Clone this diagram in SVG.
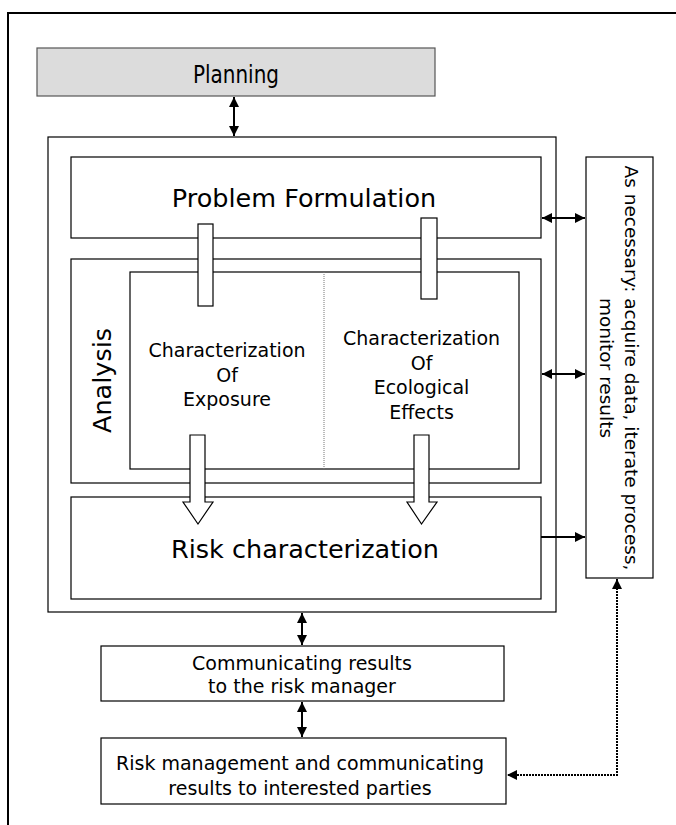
<svg xmlns="http://www.w3.org/2000/svg" width="676" height="825" viewBox="0 0 676 825">
<style>
.box{fill:#fff;stroke:#000;stroke-width:1.2}
.t{font-family:"DejaVu Sans","Verdana","Liberation Sans",sans-serif;fill:#000}
.big{font-size:25.5px}
.mid{font-size:19px}
.ln{stroke:#000;stroke-width:2;fill:none}
.bar{fill:#fff;stroke:#000;stroke-width:1.2}
</style>
<defs>
<marker id="ah" viewBox="0 0 10 10" refX="10" refY="5" markerWidth="10" markerHeight="11" markerUnits="userSpaceOnUse" orient="auto-start-reverse">
<path d="M0,0 L10,5 L0,10 z" fill="#000"/>
</marker>
</defs>
<rect width="676" height="825" fill="#fff"/>
<path d="M8,825 V13 H676" fill="none" stroke="#000" stroke-width="2"/>

<g id="planning">
<rect x="37" y="48" width="398" height="48" fill="#dcdcdc" stroke="#555" stroke-width="1.2"/>
<text class="t" x="236" y="83" font-size="25" text-anchor="middle" textLength="86" lengthAdjust="spacingAndGlyphs">Planning</text>
</g>

<g id="assessment">
<rect class="box" x="48" y="137" width="508" height="475"/>
</g>

<g id="problem-formulation">
<rect class="box" x="71" y="157" width="470" height="81"/>
<text class="t big" x="304" y="207" text-anchor="middle">Problem Formulation</text>
</g>

<g id="analysis">
<rect class="box" x="71" y="259" width="470" height="224"/>
<text class="t big" transform="translate(111,380.5) rotate(-90)" text-anchor="middle">Analysis</text>
<rect class="box" x="130" y="272" width="389" height="197"/>
<line x1="324" y1="272" x2="324" y2="469" stroke="#777" stroke-width="1" stroke-dasharray="1,1"/>
</g>

<g id="exposure">
<text class="t mid" text-anchor="middle"><tspan x="227" y="357">Characterization</tspan><tspan x="227" y="381.5">Of</tspan><tspan x="227" y="406">Exposure</tspan></text>
</g>

<g id="effects">
<text class="t mid" text-anchor="middle"><tspan x="421.5" y="345">Characterization</tspan><tspan x="421.5" y="369.5">Of</tspan><tspan x="421.5" y="394">Ecological</tspan><tspan x="421.5" y="418.5">Effects</tspan></text>
</g>

<g id="risk-characterization">
<rect class="box" x="71" y="497" width="470" height="102"/>
<text class="t big" x="305" y="558" text-anchor="middle">Risk characterization</text>
</g>

<g id="as-necessary">
<rect class="box" x="586" y="157" width="67" height="421"/>
<text class="t" font-size="18.5" transform="translate(625,368) rotate(90)" text-anchor="middle">As necessary: acquire data, iterate process,</text>
<text class="t" font-size="18.5" transform="translate(600,368) rotate(90)" text-anchor="middle">monitor results</text>
</g>

<g id="communicating">
<rect class="box" x="101" y="646" width="403" height="55"/>
<text class="t mid" text-anchor="middle"><tspan x="302" y="670">Communicating results</tspan><tspan x="302" y="693">to the risk manager</tspan></text>
</g>

<g id="risk-management">
<rect class="box" x="101" y="738" width="405" height="66"/>
<text class="t mid" text-anchor="middle"><tspan x="300" y="770">Risk management and communicating</tspan><tspan x="300" y="795">results to interested parties</tspan></text>
</g>

<g id="connectors">
<line class="ln" x1="234" y1="97" x2="234" y2="136" marker-start="url(#ah)" marker-end="url(#ah)"/>
<line class="ln" x1="542" y1="218" x2="585" y2="218" marker-start="url(#ah)" marker-end="url(#ah)"/>
<line class="ln" x1="542" y1="374" x2="585" y2="374" marker-start="url(#ah)" marker-end="url(#ah)"/>
<line class="ln" x1="541" y1="537" x2="585" y2="537" marker-end="url(#ah)"/>
<line class="ln" x1="302" y1="613" x2="302" y2="645" marker-start="url(#ah)" marker-end="url(#ah)"/>
<line class="ln" x1="302" y1="702" x2="302" y2="737" marker-start="url(#ah)" marker-end="url(#ah)"/>
<path d="M617,579 V775 H507" fill="none" stroke="#000" stroke-width="2" stroke-dasharray="2,1" marker-start="url(#ah)" marker-end="url(#ah)"/>
<rect class="bar" x="198" y="224" width="15" height="82"/>
<rect class="bar" x="421" y="218" width="16" height="81"/>
<path class="bar" d="M190,435 H205 V502 H213 L198,524 L183,502 H190 Z"/>
<path class="bar" d="M414,435 H429 V502 H437 L421.5,524 L407,502 H414 Z"/>
</g>
</svg>
